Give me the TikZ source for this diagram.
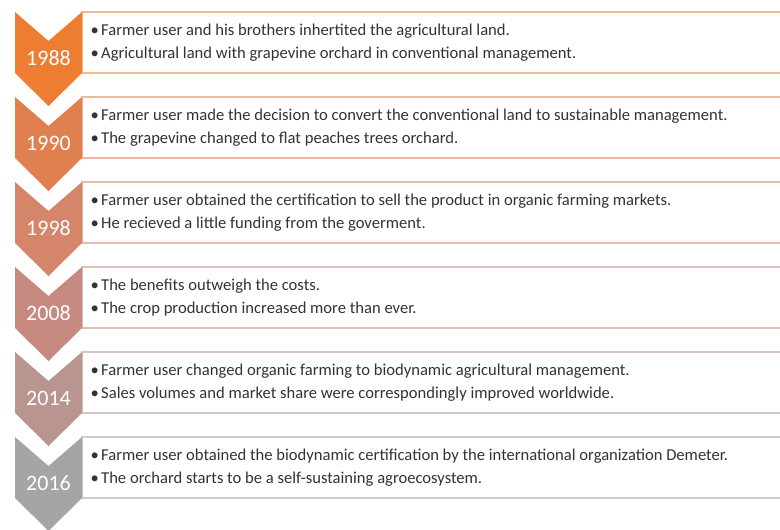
\documentclass[tikz,border=0pt]{standalone}
\usepackage{fontspec}
\setmainfont{Carlito}
\usepackage{tikz}
\usetikzlibrary{calc,positioning}
\definecolor{yrA}{HTML}{ED7D31}
\definecolor{yrB}{HTML}{E0804E}
\definecolor{yrC}{HTML}{D5866A}
\definecolor{yrD}{HTML}{C68A80}
\definecolor{yrE}{HTML}{B99590}
\definecolor{yrF}{HTML}{A5A5A5}
\definecolor{txtgray}{HTML}{333333}
\tikzset{
  chevron/.style={fill=#1, draw=none},
  notebox/.style={draw=#1!55!white, line width=1.4pt, fill=white},
  yearlabel/.style={text=white, font=\fontsize{22}{24}\selectfont, inner sep=0pt},
  notetext/.style={text=txtgray, font=\fontsize{16.6}{23.5}\selectfont, align=left, anchor=west, inner sep=0pt}
}
\newcommand{\pt}[1]{\makebox[10.5pt][l]{\textbullet}#1}
\begin{document}
\begin{tikzpicture}[x=1pt,y=-1pt]
\useasboundingbox (0,0) rectangle (780,530);
\fill[white] (0,0) rectangle (780,530);
\foreach \yr/\top/\col/\la/\lb in {
  1988/12/yrA/Farmer user and his brothers inhertited the agricultural land./Agricultural land with grapevine orchard in conventional management.,
  1990/97/yrB/Farmer user made the decision to convert the conventional land to sustainable management./The grapevine changed to flat peaches trees orchard.,
  1998/182/yrC/Farmer user obtained the certification to sell the product in organic farming markets./He recieved a little funding from the goverment.,
  2008/267/yrD/The benefits outweigh the costs./The crop production increased more than ever.,
  2014/352/yrE/Farmer user changed organic farming to biodynamic agricultural management./Sales volumes and market share were correspondingly improved worldwide.,
  2016/437/yrF/Farmer user obtained the biodynamic certification by the international organization Demeter./The orchard starts to be a self-sustaining agroecosystem.}
{
  % text box
  \draw[notebox=\col] (82,\top) rectangle (800,\top+61);
  \coordinate (b\yr) at (82,\top+30.5);
  \node[notetext, right=8.5pt of b\yr] (t\yr) {\pt{\la}\\\pt{\lb}};
  % chevron
  \fill[chevron=\col] (15,\top) -- (48.5,\top+29) -- (82,\top) -- (82,\top+61)
    -- (48.5,\top+94) -- (15,\top+61) -- cycle;
  \node[yearlabel] (y\yr) at (48.5,\top+46) {\yr};
}
\end{tikzpicture}
\end{document}
